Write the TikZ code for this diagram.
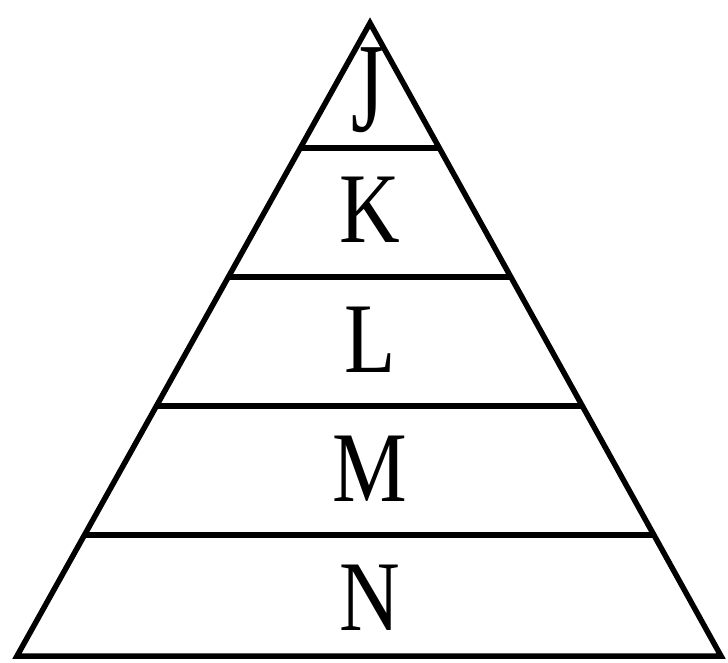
\documentclass[tikz,border=0pt]{standalone}
\usepackage{fontspec}
\setmainfont{Liberation Serif}
\usetikzlibrary{calc}
\newcommand{\sq}[1]{\scalebox{0.84}[1]{#1}}
\begin{document}
\begin{tikzpicture}[x=1pt,y=-1pt,
  edge/.style={line width=5.5pt,line join=miter,line cap=butt},
  lbl/.style={font=\fontsize{100}{100}\selectfont,inner sep=0pt,anchor=base}]
\useasboundingbox (0,0) rectangle (728,663);
\coordinate (A) at (370,23);
\coordinate (L) at (17,656);
\coordinate (R) at (721,656);
\draw[edge] (A) -- (L) -- (R) -- cycle;
\foreach \yy/\nm in {148/a,277/b,406/c,535/d}{
  \pgfmathsetmacro{\tt}{(\yy-23)/633}
  \coordinate (\nm l) at ($(A)!\tt!(L)$);
  \coordinate (\nm r) at ($(A)!\tt!(R)$);
  \draw[edge] (\nm l) -- (\nm r);
}
\node[lbl] (j) at (368,132) {\scalebox{0.84}[1.28]{J}};
\node[lbl] (k) at (370,243) {\sq{K}};
\node[lbl] (l) at (370,372) {\sq{L}};
\node[lbl] (m) at (370,501) {\sq{M}};
\node[lbl] (n) at (370,630) {\sq{N}};
\end{tikzpicture}
\end{document}
